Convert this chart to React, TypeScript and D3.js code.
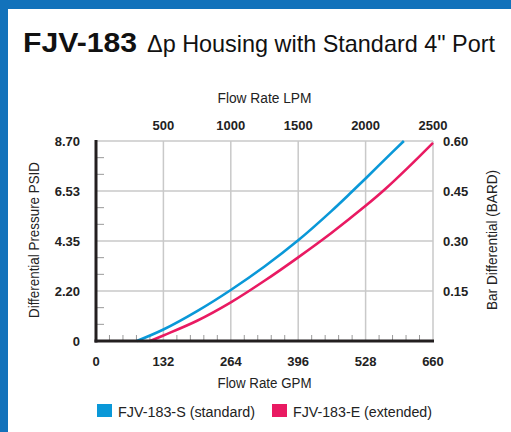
import * as d3 from 'd3'

const gpmTicks = [0, 132, 264, 396, 528, 660]
const lpmTicks = [500, 1000, 1500, 2000, 2500]
const psidTicks = [0, 2.175, 4.35, 6.525, 8.7]
const psidLabels = ['0', '2.20', '4.35', '6.53', '8.70']
const barTicks = [0.15, 0.3, 0.45, 0.6]

const stdGpm = [80, 132, 198, 264, 330, 396, 461, 501, 528, 566, 603]
const stdPsid = [0, 0.5, 1.3, 2.22, 3.24, 4.38, 5.65, 6.49, 7.07, 7.9, 8.7]
const extGpm = [106, 132, 198, 264, 330, 396, 461, 528, 566, 610, 660]
const extPsid = [0, 0.24, 0.88, 1.68, 2.62, 3.64, 4.7, 5.88, 6.6, 7.52, 8.62]

const series = [
  { name: 'FJV-183-S (standard)', color: '#0a98d8', gpm: stdGpm, psid: stdPsid },
  { name: 'FJV-183-E (extended)', color: '#e91a62', gpm: extGpm, psid: extPsid },
]

const width = 511
const height = 432
const left = 96
const right = 433
const top = 141
const bottom = 341

const font = '"Liberation Sans", Arial, sans-serif'

export default function App() {
  const x = d3.scaleLinear([0, 660], [left, right])
  const xLpm = d3.scaleLinear([0, 2500], [left, right])
  const y = d3.scaleLinear([0, 8.7], [bottom, top])
  const yBar = d3.scaleLinear([0, 0.6], [bottom, top])

  // minor ticks: 5 per gpm interval, 3 per psid interval
  const minorX = d3.range(0, 660.01, 26.4).filter((v) => !gpmTicks.some((t) => Math.abs(t - v) < 0.1))
  const minorY = d3.range(0, 8.71, 8.7 / 12).filter((v, i) => i % 3 !== 0)

  const line = (gpm: number[], psid: number[]) =>
    d3
      .line<number>((d, i) => x(gpm[i]), (d) => y(d))
      .curve(d3.curveCatmullRom.alpha(0.5))(psid) || undefined

  return (
    <svg
      width={width}
      height={height}
      viewBox={`0 0 ${width} ${height}`}
      style={{ position: 'absolute', left: 0, top: 0, background: '#fff' }}
      fontFamily={font}
    >
      <rect x={0} y={0} width={width} height={9} fill="#1272bb" />
      <rect x={0} y={0} width={8} height={height} fill="#1272bb" />

      <text x={23} y={52} fontSize={28} fontWeight="bold" fill="#111" textLength={114} lengthAdjust="spacingAndGlyphs">
        FJV-183
      </text>
      <text x={147} y={52} fontSize={24} fill="#111" textLength={348} lengthAdjust="spacingAndGlyphs">
        Δp Housing with Standard 4" Port
      </text>

      {/* grid */}
      <g stroke="#c9c9c9" strokeWidth={1.5}>
        {gpmTicks.slice(1).map((t) => (
          <line key={'gx' + t} x1={x(t)} x2={x(t)} y1={top} y2={bottom} />
        ))}
        {psidTicks.slice(1).map((t) => (
          <line key={'gy' + t} x1={left} x2={right} y1={y(t)} y2={y(t)} />
        ))}
      </g>

      <g stroke="#9a9a9a" strokeWidth={1}>
        {minorX.map((v) => (
          <line key={'mx' + v} x1={x(v)} x2={x(v)} y1={bottom} y2={bottom - 6} />
        ))}
        {minorY.map((v) => (
          <line key={'my' + v} x1={left} x2={left + 8} y1={y(v)} y2={y(v)} />
        ))}
      </g>

      {series.map((s) => (
        <path key={s.name} d={line(s.gpm, s.psid)} fill="none" stroke={s.color} strokeWidth={2.6} />
      ))}

      {/* axes */}
      <line x1={left} x2={left} y1={top - 1} y2={bottom + 1.5} stroke="#231f20" strokeWidth={3} />
      <line x1={left - 1.5} x2={right + 1} y1={bottom} y2={bottom} stroke="#231f20" strokeWidth={3} />

      <g fontSize={13} fontWeight="bold" fill="#222">
        {psidTicks.map((t, i) => (
          <text key={'yl' + t} x={80} y={y(t)} dy="0.36em" textAnchor="end">
            {psidLabels[i]}
          </text>
        ))}
        {barTicks.map((t) => (
          <text key={'yr' + t} x={443} y={yBar(t)} dy="0.36em">
            {t.toFixed(2)}
          </text>
        ))}
        {gpmTicks.map((t) => (
          <text key={'xb' + t} x={x(t)} y={366} textAnchor="middle">
            {t}
          </text>
        ))}
        {lpmTicks.map((t) => (
          <text key={'xt' + t} x={xLpm(t)} y={130} textAnchor="middle">
            {t}
          </text>
        ))}
      </g>

      <g fontSize={14} fill="#222">
        <text x={(left + right) / 2} y={103} textAnchor="middle" textLength={94} lengthAdjust="spacingAndGlyphs">
          Flow Rate LPM
        </text>
        <text x={(left + right) / 2} y={388} textAnchor="middle" textLength={94} lengthAdjust="spacingAndGlyphs">
          Flow Rate GPM
        </text>
        <text
          transform={`translate(39,240) rotate(-90)`}
          textAnchor="middle"
          textLength={156}
          lengthAdjust="spacingAndGlyphs"
        >
          Differential Pressure PSID
        </text>
        <text
          transform={`translate(497,240) rotate(-90)`}
          textAnchor="middle"
          textLength={140}
          lengthAdjust="spacingAndGlyphs"
        >
          Bar Differential (BARD)
        </text>
      </g>

      {/* legend */}
      <g fontSize={14} fill="#222">
        <rect x={97} y={404} width={15} height={13} fill={series[0].color} />
        <text x={118} y={417} textLength={137} lengthAdjust="spacingAndGlyphs">
          {series[0].name}
        </text>
        <rect x={272} y={404} width={15} height={13} fill={series[1].color} />
        <text x={293} y={417} textLength={139} lengthAdjust="spacingAndGlyphs">
          {series[1].name}
        </text>
      </g>
    </svg>
  )
}
